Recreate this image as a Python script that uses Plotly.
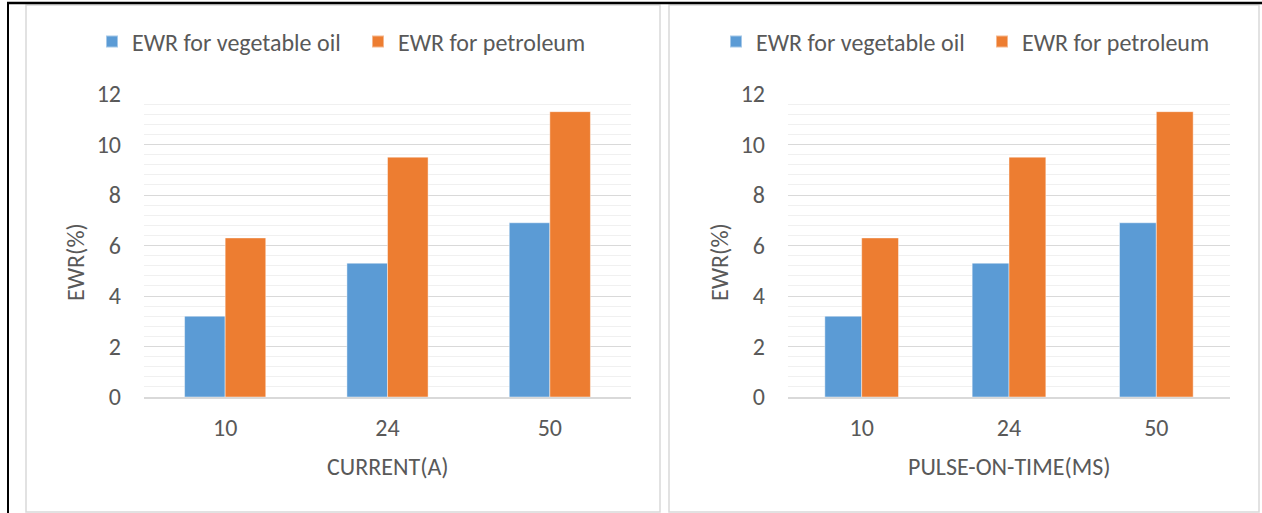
import plotly.graph_objects as go

categories = ["10", "24", "50"]
veg_oil = [3.2, 5.3, 6.9]
petroleum = [6.3, 9.5, 11.3]
series_names = ["EWR for vegetable oil", "EWR for petroleum"]
x_titles = ["CURRENT(A)", "PULSE-ON-TIME(MS)"]
y_title = "EWR(%)"
y_ticks = [0, 2, 4, 6, 8, 10, 12]

W, H = 1262, 513
BLUE = "#5B9BD5"
ORANGE = "#ED7D31"
TXT = "#595959"
FONT = "Carlito, Open Sans, sans-serif"
FS = 24

def px(x):
    return x / W

def py(y):
    return 1 - y / H

fig = go.Figure()

panels = [
    dict(xa="x", ya="y", dom=(144, 631), legend="legend", panel=(26, 660), leg_x=92),
    dict(xa="x2", ya="y2", dom=(788, 1230), legend="legend2", panel=(669, 1259), leg_x=716),
]

for i, p in enumerate(panels):
    fig.add_trace(go.Bar(x=categories, y=veg_oil, name=series_names[0],
                         marker=dict(color=BLUE, line=dict(color="rgba(255,255,255,0.45)", width=1)),
                         xaxis=p["xa"], yaxis=p["ya"], legend=p["legend"]))
    fig.add_trace(go.Bar(x=categories, y=petroleum, name=series_names[1],
                         marker=dict(color=ORANGE, line=dict(color="rgba(255,255,255,0.45)", width=1)),
                         xaxis=p["xa"], yaxis=p["ya"], legend=p["legend"]))

ydom = [py(397), py(94)]
axis_common = dict(tickfont=dict(family=FONT, size=FS, color=TXT))
for i, p in enumerate(panels):
    sfx = "" if i == 0 else str(i + 1)
    fig.update_layout(**{
        "xaxis" + sfx: dict(domain=[px(p["dom"][0]), px(p["dom"][1])], anchor="y" + sfx,
                            showgrid=False, showline=True, linecolor="#d9d9d9", linewidth=1.5,
                            ticks="", ticklabelstandoff=8, automargin=False, **axis_common),
        "yaxis" + sfx: dict(domain=ydom, anchor="x" + sfx, range=[0, 12],
                            tickvals=y_ticks, showgrid=True, gridcolor="#d9d9d9", gridwidth=1.3,
                            zeroline=False, showline=False, ticks="", ticklabelstandoff=22,
                            automargin=False,
                            minor=dict(dtick=0.4, tick0=0, showgrid=True, gridcolor="#f0f0f0", gridwidth=1.3),
                            **axis_common),
    })

legend_style = dict(orientation="h", font=dict(family=FONT, size=FS, color=TXT),
                    bgcolor="rgba(0,0,0,0)", xanchor="left", yanchor="middle",
                    itemwidth=30, itemsizing="constant", tracegroupgap=0,
                    entrywidth=221, entrywidthmode="pixels")
fig.update_layout(
    legend=dict(x=px(panels[0]["leg_x"]), y=py(42), **legend_style),
    legend2=dict(x=px(panels[1]["leg_x"]), y=py(42), **legend_style),
)

annotations = []
for i, p in enumerate(panels):
    cx = (p["dom"][0] + p["dom"][1]) / 2
    annotations.append(dict(text=x_titles[i], x=px(cx), y=py(466), xref="paper", yref="paper",
                            showarrow=False, xanchor="center", yanchor="middle",
                            font=dict(family=FONT, size=FS, color=TXT)))
    annotations.append(dict(text=y_title, x=px(p["dom"][0] - 69), y=py(262), xref="paper", yref="paper",
                            showarrow=False, textangle=-90, xanchor="center", yanchor="middle",
                            font=dict(family=FONT, size=FS, color=TXT)))

shapes = []
for p in panels:
    shapes.append(dict(type="rect", xref="paper", yref="paper",
                       x0=px(p["panel"][0]), x1=px(p["panel"][1]), y0=py(512), y1=py(5),
                       line=dict(color="#d9d9d9", width=1.5), fillcolor="rgba(0,0,0,0)", layer="below"))
shapes.append(dict(type="line", xref="paper", yref="paper", x0=px(7), x1=1, y0=py(3), y1=py(3),
                   line=dict(color="black", width=2.5), layer="above"))
shapes.append(dict(type="rect", xref="paper", yref="paper", x0=px(7), x1=px(9), y0=0, y1=py(2),
                   line=dict(width=0), fillcolor="black", layer="above"))

fig.update_layout(
    width=W, height=H, margin=dict(l=0, r=0, t=0, b=0, autoexpand=False),
    paper_bgcolor="white", plot_bgcolor="white",
    barmode="group", bargap=0.5, bargroupgap=0,
    annotations=annotations, shapes=shapes,
    font=dict(family=FONT, color=TXT),
)

fig.write_html("out.html", config={"displayModeBar": False},
               post_script="document.body.style.margin='0';document.body.style.overflow='hidden';")
